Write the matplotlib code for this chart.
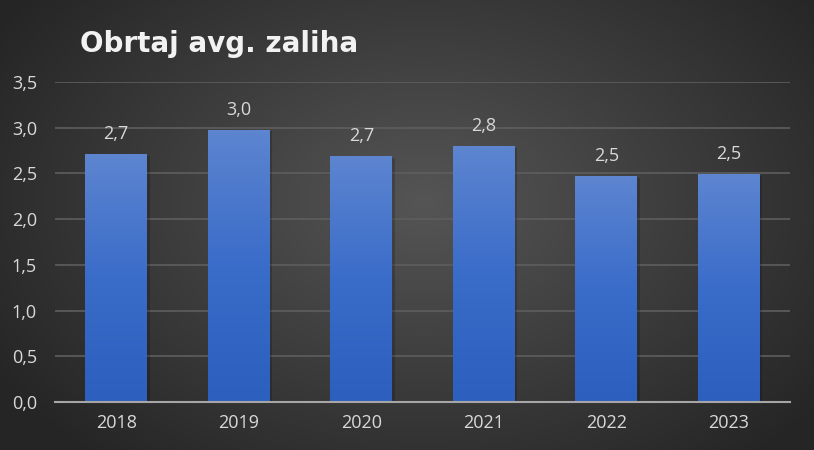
import numpy as np
import matplotlib
matplotlib.use("Agg")
import matplotlib.pyplot as plt
from matplotlib.colors import LinearSegmentedColormap

title = "Obrtaj avg. zaliha"
years = ["2018", "2019", "2020", "2021", "2022", "2023"]
values = [2.71, 2.98, 2.69, 2.80, 2.47, 2.49]
yticks = [0.0, 0.5, 1.0, 1.5, 2.0, 2.5, 3.0, 3.5]

W, H = 814, 450
fig = plt.figure(figsize=(W/100, H/100), dpi=100)

# radial gradient background
bg = fig.add_axes([0, 0, 1, 1], zorder=-10)
yy, xx = np.mgrid[0:H, 0:W]
cx, cy = W*0.52, H*0.45
r = np.sqrt(((xx-cx)/(W*0.62))**2 + ((yy-cy)/(H*0.75))**2)
r = np.clip(r, 0, 1)
inner = np.array([0x55, 0x55, 0x55])/255
outer = np.array([0x25, 0x25, 0x25])/255
img = inner[None, None, :]*(1-r[..., None]) + outer[None, None, :]*r[..., None]
bg.imshow(img, extent=[0, 1, 0, 1], aspect="auto", origin="upper")
bg.axis("off")

ax = fig.add_axes([55/W, 1-402/H, (790-55)/W, (402-82)/H])
ax.patch.set_alpha(0)
x = np.arange(len(years))
bars = ax.bar(x, values, width=0.505, color="#4472c4", zorder=3, linewidth=0)

cmap = LinearSegmentedColormap.from_list("b", ["#2c5fbe", "#3a6cc9", "#5d85d0"])
grad = np.linspace(0, 1, 256).reshape(-1, 1)
for b in bars:
    x0, w, h = b.get_x(), b.get_width(), b.get_height()
    # shadow
    ax.bar(x0 + w/2 + 0.02, h - 0.02, width=w, bottom=0, color="black", alpha=0.18,
           zorder=2, linewidth=0)
    im = ax.imshow(grad, cmap=cmap, extent=[x0, x0+w, 0, h], origin="lower",
                   aspect="auto", zorder=4)
    im.set_clip_path(b)

for xi, v in zip(x, values):
    ax.text(xi, v + 0.12, f"{v:.1f}".replace(".", ","), ha="center", va="bottom",
            color="#d9d9d9", fontsize=13, family="Open Sans", zorder=5)

ax.set_xlim(-0.5, len(years)-0.5)
ax.set_ylim(0, 3.5)
ax.set_yticks(yticks)
ax.set_yticklabels([f"{t:.1f}".replace(".", ",") for t in yticks])
ax.set_xticks(x)
ax.set_xticklabels(years)
for lab in ax.get_xticklabels() + ax.get_yticklabels():
    lab.set_color("#d9d9d9")
    lab.set_fontsize(13)
    lab.set_family("Open Sans")
ax.tick_params(length=0)
ax.tick_params(axis="y", pad=13)
ax.tick_params(axis="x", pad=9)
ax.grid(axis="y", color="#5e5e5e", linewidth=1.2, zorder=0)
for s in ["top", "right", "left"]:
    ax.spines[s].set_visible(False)
ax.spines["bottom"].set_color("#a6a6a6")
ax.spines["bottom"].set_linewidth(1.5)
ax.spines["bottom"].set_zorder(6)

fig.text(80/W, 1-44/H, title, color="#f2f2f2", fontsize=20, fontweight="bold",
         family="DejaVu Sans", ha="left", va="center")

fig.savefig("out.png", dpi=100)
